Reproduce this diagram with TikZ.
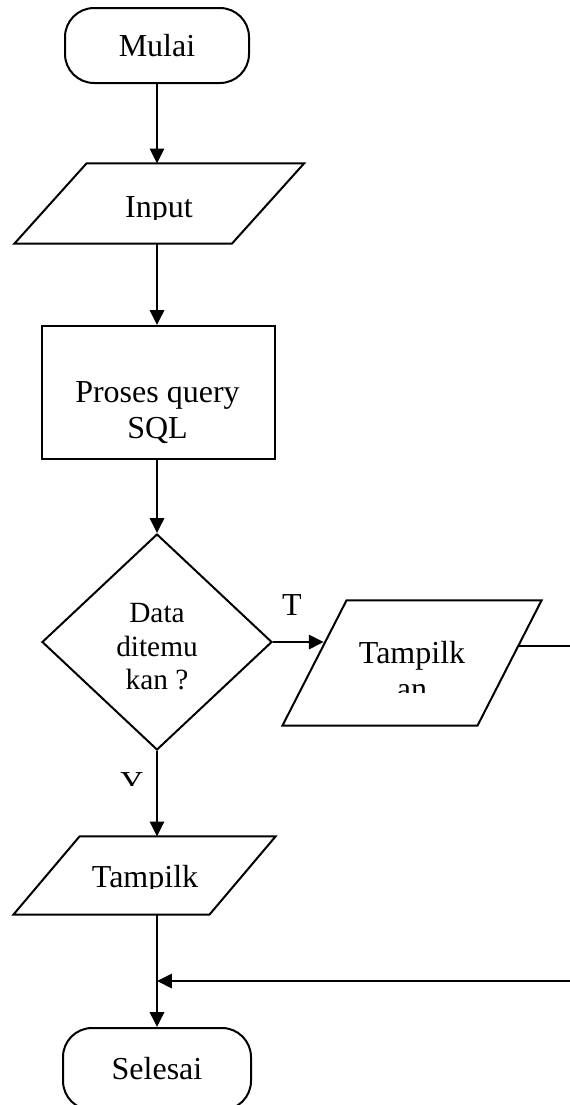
\documentclass[tikz,border=0pt]{standalone}
\usepackage{fontspec}
\setmainfont{Liberation Serif}
\usetikzlibrary{arrows.meta,shapes.geometric,calc}
\newcommand\pxu{0.375pt}
\begin{document}
\begin{tikzpicture}[x=0.375pt,y=-0.375pt,
  outline/.style={draw, line width=0.75pt},
  flow/.style={line width=0.75pt, -{Triangle[length=5.6pt,width=5.4pt]}},
  terminal/.style={outline, rounded corners=10.9pt, inner sep=0pt,
    font=\fontsize{12}{13.5}\selectfont},
  holder/.style={rectangle, inner sep=0pt},
  body/.style={inner sep=0pt, align=center, font=\fontsize{12}{13.5}\selectfont},
  small/.style={inner sep=0pt, align=center, font=\fontsize{11}{12.6}\selectfont},
]
\useasboundingbox (0,0) rectangle (569,1105);
\coordinate (axis) at (157,0);

% Start
\node[terminal, minimum width=184*\pxu, minimum height=75*\pxu] (mulai) at (157,45.5) {Mulai};

% Input
\node[holder, minimum width=216.5*\pxu, minimum height=79*\pxu] (input) at (159.25,203.5) {};
\draw[outline] ($(input.north west)+(36,0)$) -- ($(input.north east)+(36,0)$)
  -- ($(input.south east)-(36,0)$) -- ($(input.south west)-(36,0)$) -- cycle;
\begin{scope}
  \clip (0,0) rectangle (569,219);
  \node[body, anchor=base] (inputtxt) at (159,217) {Input};
\end{scope}

% Query processing
\node[holder, outline, minimum width=233*\pxu, minimum height=133*\pxu] (proc) at (158.5,392.5) {};
\node[body, anchor=north] (proctxt) at (157.5,381) {Proses query\\SQL};

% Decision
\node[diamond, outline, inner sep=0pt, minimum width=230*\pxu, minimum height=216*\pxu] (dec) at (157,642) {};
\node[small, anchor=north] (dectxt) at (157,603) {Data\\ditemu\\kan ?};

% Output when not found
\node[holder, minimum width=194*\pxu, minimum height=124*\pxu] (out1) at (412,663) {};
\coordinate (o1tl) at ($(out1.north west)+(32,0)$);
\coordinate (o1tr) at ($(out1.north east)+(32,0)$);
\coordinate (o1br) at ($(out1.south east)-(32,0)$);
\coordinate (o1bl) at ($(out1.south west)-(32,0)$);
\draw[outline] (o1tl) -- (o1tr) -- (o1br) -- (o1bl) -- cycle;
\coordinate (o1in) at ($(o1tl)!0.355!(o1bl)$);
\coordinate (o1out) at ($(o1tr)!0.363!(o1br)$);
\begin{scope}
  \clip (0,0) rectangle (569,692);
  \node[body, anchor=north] (out1txt) at (412,641) {Tampilk\\an};
\end{scope}
\node[body, anchor=base] (tlbl) at (292,615) {T};

% Output when found
\begin{scope}
  \clip (0,0) rectangle (569,785);
  \node[body, anchor=base] (ylbl) at (132,793) {Y};
\end{scope}
\node[holder, minimum width=195*\pxu, minimum height=77*\pxu] (out2) at (144.5,875.5) {};
\draw[outline] ($(out2.north west)+(33,0)$) -- ($(out2.north east)+(33,0)$)
  -- ($(out2.south east)-(33,0)$) -- ($(out2.south west)-(33,0)$) -- cycle;
\begin{scope}
  \clip (0,0) rectangle (569,888);
  \node[body, anchor=base] (out2txt) at (145,887) {Tampilk};
\end{scope}

% End
\node[terminal, minimum width=188*\pxu, minimum height=82*\pxu] (selesai) at (157,1069) {Selesai};

% Connectors
\coordinate (join) at (157,981);
\coordinate (loop) at (600,981);
\draw[flow] (mulai.south) -- (mulai.south |- input.north);
\draw[flow] (input.south -| axis) -- (proc.north -| axis);
\draw[flow] (proc.south -| axis) -- (dec.north);
\draw[flow] (dec.east) -- (dec.east -| o1in);
\draw[flow] (dec.south) -- (dec.south |- out2.north);
\draw[flow] (out2.south -| axis) -- (selesai.north);
\draw[flow] (o1out) -- (o1out -| loop) -- (loop) -- (join);
\end{tikzpicture}
\end{document}
